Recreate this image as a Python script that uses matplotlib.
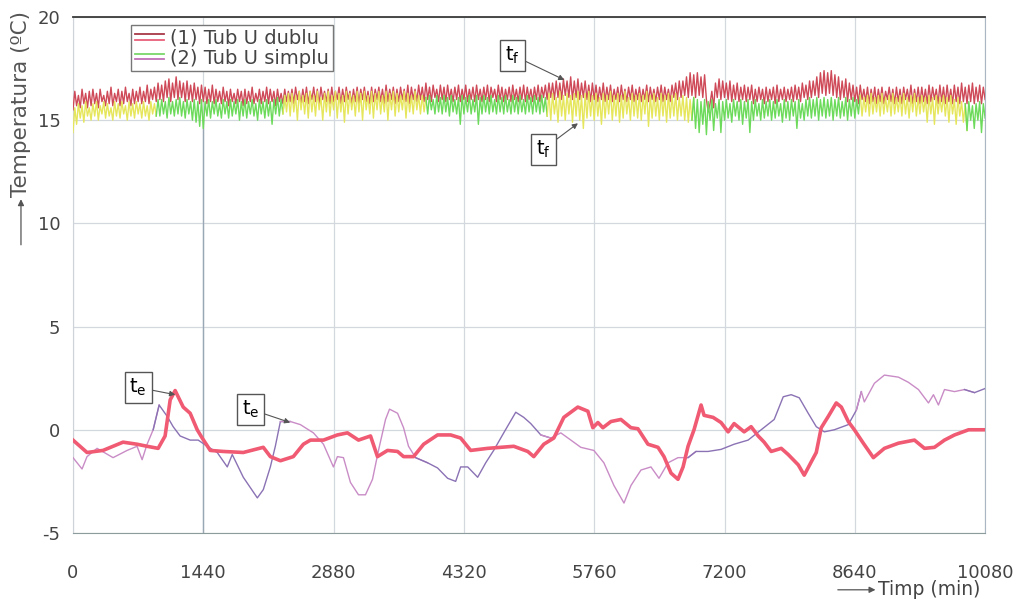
import numpy as np
import matplotlib
matplotlib.use('Agg')
import matplotlib.pyplot as plt
from matplotlib.legend_handler import HandlerBase
from matplotlib.lines import Line2D

plt.rcParams['axes.unicode_minus'] = False

# fluid temperature, one reading every 20 min (0 ... 10080 min), 12 readings per row
sample_step = 20
tf_dublu = [
    15.5, 16.4, 15.7, 16.2, 15.6, 16.5, 15.8, 16.3, 15.6, 16.4, 15.7, 16.5,
    15.8, 16.3, 15.6, 16.5, 15.9, 16.2, 15.7, 16.4, 15.8, 16.6, 15.7, 16.3,
    15.9, 16.5, 15.7, 16.4, 15.8, 16.6, 15.9, 16.3, 15.7, 16.5, 15.8, 16.4,
    15.9, 16.6, 15.8, 16.4, 15.9, 16.7, 15.8, 16.5, 16.0, 16.6, 15.9, 16.8,
    16.0, 16.7, 15.9, 16.9, 16.1, 17.0, 15.9, 16.8, 16.1, 17.1, 16.0, 16.9,
    16.1, 16.8, 15.9, 16.9, 16.0, 16.7, 15.9, 16.8, 16.0, 16.6, 15.8, 16.7,
    15.9, 16.6, 15.8, 16.5, 15.9, 16.7, 15.8, 16.5, 15.9, 16.4, 15.8, 16.6,
    15.9, 16.4, 15.7, 16.5, 15.9, 16.3, 15.8, 16.5, 15.9, 16.4, 15.7, 16.5,
    15.8, 16.4, 15.9, 16.6, 15.8, 16.3, 15.9, 16.5, 15.8, 16.4, 15.9, 16.6,
    15.8, 16.5, 15.9, 16.4, 15.7, 16.5, 15.9, 16.3, 15.8, 16.5, 15.9, 16.4,
    15.9, 16.5, 15.8, 16.6, 16.0, 16.4, 15.8, 16.5, 15.9, 16.6, 15.8, 16.4,
    16.0, 16.6, 15.9, 16.5, 15.8, 16.6, 16.0, 16.4, 15.9, 16.5, 15.8, 16.6,
    15.9, 16.4, 16.0, 16.6, 15.8, 16.5, 15.9, 16.6, 16.0, 16.4, 15.8, 16.5,
    15.9, 16.6, 15.8, 16.5, 16.0, 16.6, 15.9, 16.4, 15.8, 16.6, 15.9, 16.5,
    16.0, 16.6, 15.9, 16.5, 15.8, 16.7, 15.9, 16.5, 16.0, 16.6, 15.8, 16.5,
    15.9, 16.6, 16.0, 16.5, 15.9, 16.7, 15.8, 16.6, 16.0, 16.5, 15.9, 16.7,
    16.0, 16.6, 15.9, 16.8, 16.0, 16.6, 15.9, 16.7, 16.1, 16.5, 15.9, 16.7,
    16.0, 16.6, 15.9, 16.7, 16.0, 16.5, 15.9, 16.6, 16.0, 16.7, 15.9, 16.5,
    16.0, 16.7, 15.9, 16.5, 16.0, 16.6, 15.9, 16.7, 16.0, 16.5, 15.9, 16.6,
    16.0, 16.7, 15.9, 16.6, 16.1, 16.5, 15.9, 16.7, 16.0, 16.6, 15.9, 16.5,
    16.0, 16.6, 15.9, 16.7, 16.0, 16.5, 15.9, 16.6, 16.0, 16.7, 15.9, 16.6,
    16.0, 16.5, 15.9, 16.6, 16.0, 16.7, 15.9, 16.6, 16.1, 16.7, 16.0, 16.8,
    16.1, 16.8, 16.0, 16.9, 16.1, 16.8, 16.0, 17.0, 16.2, 16.9, 16.1, 17.1,
    16.0, 16.9, 16.1, 17.0, 16.0, 16.8, 16.1, 16.9, 16.0, 16.7, 15.9, 16.8,
    16.0, 16.7, 15.9, 16.6, 16.0, 16.8, 15.9, 16.6, 16.0, 16.7, 15.9, 16.5,
    16.0, 16.6, 15.9, 16.7, 16.0, 16.5, 15.9, 16.6, 16.0, 16.7, 15.9, 16.5,
    16.0, 16.6, 15.9, 16.5, 16.0, 16.7, 15.9, 16.6, 16.0, 16.5, 15.9, 16.6,
    16.0, 16.7, 15.9, 16.6, 16.0, 16.5, 15.9, 16.7, 16.1, 16.8, 16.0, 16.9,
    16.1, 16.9, 16.2, 17.1, 16.1, 17.3, 16.2, 17.2, 16.1, 17.3, 16.2, 17.1,
    16.1, 17.2, 16.0, 15.4, 15.8, 16.4, 15.6, 16.8, 16.1, 17.0, 16.0, 16.9,
    16.1, 16.8, 16.0, 16.9, 15.9, 16.7, 16.0, 16.8, 15.9, 16.6, 16.0, 16.7,
    15.9, 16.6, 16.0, 16.7, 15.8, 16.5, 15.9, 16.6, 16.0, 16.5, 15.8, 16.6,
    15.9, 16.5, 16.0, 16.6, 15.8, 16.7, 15.9, 16.5, 16.0, 16.6, 15.9, 16.5,
    16.0, 16.6, 15.9, 16.7, 16.0, 16.6, 15.9, 16.8, 16.1, 16.7, 16.0, 16.9,
    16.1, 16.9, 16.2, 17.1, 16.1, 17.3, 16.3, 17.4, 16.2, 17.3, 16.3, 17.4,
    16.2, 17.2, 16.1, 17.1, 16.0, 16.9, 16.1, 17.0, 15.9, 16.8, 16.0, 16.7,
    15.9, 16.6, 15.8, 16.7, 16.0, 16.5, 15.9, 16.6, 15.8, 16.5, 15.9, 16.6,
    15.8, 16.5, 15.9, 16.6, 15.8, 16.4, 16.0, 16.6, 15.9, 16.5, 15.8, 16.6,
    15.9, 16.5, 15.8, 16.6, 16.0, 16.5, 15.9, 16.7, 15.8, 16.5, 15.9, 16.6,
    15.8, 16.6, 15.9, 16.5, 15.8, 16.7, 15.9, 16.6, 16.0, 16.5, 15.8, 16.7,
    15.9, 16.6, 15.8, 16.7, 15.9, 16.5, 15.8, 16.7, 15.9, 16.6, 15.8, 16.8,
    15.9, 16.6, 15.8, 16.7, 15.9, 16.8, 15.8, 16.6, 15.9, 16.7, 15.8, 16.6,
    16.0,
]
tf_simplu = [
    14.4, 15.6, 14.8, 15.8, 15.1, 15.7, 14.9, 15.9, 15.2, 15.6, 15.0, 15.8,
    15.2, 15.9, 15.0, 15.7, 15.3, 15.9, 15.1, 15.8, 15.2, 15.6, 15.0, 15.9,
    15.2, 15.8, 15.1, 15.9, 15.3, 15.7, 15.0, 15.9, 15.2, 15.8, 15.1, 15.9,
    15.3, 15.8, 15.1, 15.9, 15.2, 15.7, 15.0, 15.9, 15.3, 15.8, 15.2, 16.0,
    15.2, 16.0, 15.3, 15.9, 15.1, 16.1, 15.3, 15.9, 15.2, 16.0, 15.3, 16.1,
    15.2, 15.9, 15.1, 16.0, 15.3, 15.9, 15.0, 16.0, 14.9, 15.9, 14.7, 16.0,
    14.6, 15.9, 15.2, 16.0, 15.1, 15.9, 15.3, 16.0, 15.2, 15.8, 15.1, 16.0,
    15.3, 15.9, 15.1, 16.0, 15.2, 15.9, 15.3, 16.0, 15.0, 15.9, 15.2, 16.0,
    15.1, 15.9, 15.3, 16.0, 15.2, 15.8, 15.0, 16.0, 15.3, 15.9, 15.1, 16.0,
    15.2, 15.9, 14.8, 16.0, 15.3, 16.1, 15.2, 16.0, 15.3, 16.2, 15.4, 16.3,
    15.2, 16.3, 15.4, 16.2, 15.0, 16.4, 15.5, 16.2, 15.3, 16.3, 15.1, 16.4,
    15.4, 16.2, 15.2, 16.4, 15.5, 16.1, 15.0, 16.3, 15.4, 16.4, 15.2, 16.2,
    15.5, 16.4, 15.1, 16.3, 15.4, 16.2, 14.9, 16.4, 15.3, 16.3, 15.5, 16.2,
    15.2, 16.4, 15.4, 16.3, 15.0, 16.4, 15.5, 16.2, 15.3, 16.4, 15.1, 16.3,
    15.5, 16.4, 15.3, 16.2, 15.4, 16.4, 15.0, 16.3, 15.5, 16.4, 15.2, 16.3,
    15.4, 16.2, 15.5, 16.4, 15.1, 16.3, 15.4, 16.2, 15.3, 16.4, 15.5, 16.2,
    15.3, 16.2, 15.4, 16.1, 15.3, 16.2, 15.5, 16.0, 15.3, 16.2, 15.4, 16.1,
    15.3, 16.2, 15.4, 16.1, 15.2, 16.2, 15.4, 16.0, 15.3, 16.1, 14.8, 16.2,
    15.3, 16.1, 15.4, 16.2, 15.3, 16.0, 15.4, 16.2, 14.8, 16.1, 15.3, 16.2,
    15.4, 16.1, 15.3, 16.2, 15.4, 16.0, 15.3, 16.2, 15.4, 16.1, 15.3, 16.2,
    15.4, 16.0, 15.3, 16.2, 15.4, 16.1, 15.3, 16.2, 15.4, 16.0, 15.3, 16.2,
    15.4, 16.1, 15.3, 16.2, 15.4, 16.1, 15.3, 16.2, 15.4, 16.1, 15.2, 16.3,
    15.0, 16.3, 15.3, 16.1, 14.9, 16.4, 15.2, 16.2, 15.0, 16.3, 15.3, 16.2,
    14.9, 16.3, 15.2, 16.4, 15.0, 16.2, 14.6, 16.3, 15.1, 16.4, 15.2, 16.2,
    15.0, 16.3, 15.2, 16.1, 14.8, 16.3, 15.1, 16.2, 15.3, 16.4, 15.0, 16.2,
    15.2, 16.3, 14.9, 16.2, 15.1, 16.4, 15.3, 16.1, 15.0, 16.3, 15.2, 16.2,
    15.1, 16.3, 15.0, 16.2, 15.3, 16.4, 14.7, 16.2, 15.1, 16.3, 15.2, 16.1,
    15.0, 16.3, 15.2, 16.2, 14.9, 16.3, 15.1, 16.2, 15.2, 16.3, 15.0, 16.1,
    15.2, 16.2, 15.0, 16.1, 14.9, 16.0, 15.0, 16.1, 14.6, 16.0, 14.4, 15.9,
    14.8, 16.0, 14.3, 15.9, 15.0, 16.0, 14.5, 15.8, 15.1, 16.0, 14.4, 15.9,
    15.0, 16.0, 15.1, 15.8, 14.9, 16.0, 15.2, 15.9, 15.0, 16.0, 14.8, 15.9,
    15.1, 16.0, 14.4, 15.9, 15.0, 16.0, 15.2, 15.8, 15.0, 16.0, 15.1, 15.9,
    15.2, 16.0, 15.0, 15.9, 15.1, 16.0, 15.2, 15.8, 14.9, 16.0, 15.1, 15.9,
    15.0, 16.0, 15.2, 15.9, 14.6, 16.0, 15.1, 15.8, 15.0, 16.0, 15.2, 16.1,
    15.1, 16.0, 15.2, 16.1, 15.0, 16.0, 15.2, 16.1, 15.1, 16.0, 15.2, 16.1,
    15.0, 16.0, 15.2, 16.1, 15.1, 15.9, 15.2, 16.1, 15.0, 16.0, 15.2, 16.1,
    15.1, 16.0, 15.3, 16.2, 15.2, 16.1, 15.4, 16.2, 15.2, 16.3, 15.3, 16.1,
    15.4, 16.2, 15.2, 16.3, 15.3, 16.1, 15.4, 16.2, 15.2, 16.3, 15.3, 16.1,
    15.4, 16.2, 15.2, 16.3, 15.3, 16.1, 15.1, 16.2, 15.4, 16.3, 15.2, 16.1,
    15.3, 16.2, 15.4, 16.1, 14.9, 16.2, 15.3, 16.1, 14.8, 16.2, 15.3, 16.1,
    15.4, 16.2, 15.2, 16.1, 14.9, 16.2, 15.3, 16.0, 14.8, 16.1, 15.2, 15.9,
    14.9, 15.8, 14.5, 15.9, 15.0, 15.7, 14.6, 15.8, 15.0, 15.9, 14.4, 15.8,
    15.1,
]

# outdoor temperature (1) tub U dublu
te_dublu_t = [
    0, 155, 332, 553, 708, 819, 941, 1018, 1074, 1129,
    1218, 1295, 1373, 1428, 1517, 1661, 1882, 2103, 2181, 2292,
    2435, 2546, 2624, 2768, 2922, 3033, 3155, 3288, 3365, 3476,
    3587, 3653, 3764, 3875, 4029, 4173, 4284, 4395, 4583, 4727,
    4871, 5026, 5092, 5203, 5314, 5424, 5579, 5690, 5745, 5801,
    5856, 5945, 6055, 6166, 6243, 6354, 6465, 6531, 6609, 6686,
    6742, 6797, 6863, 6941, 6974, 7074, 7162, 7240, 7306, 7417,
    7494, 7572, 7638, 7716, 7827, 7904, 8015, 8081, 8159, 8214,
    8269, 8347, 8435, 8491, 8568, 8635, 8734, 8845, 8967, 9122,
    9299, 9410, 9520, 9631, 9742, 9897, 10080,
]
te_dublu = [
    -0.5, -1.1, -1.0, -0.6, -0.7, -0.8, -0.9, -0.3, 1.45, 1.9,
    1.1, 0.8, 0.0, -0.4, -1.0, -1.05, -1.1, -0.85, -1.3, -1.5,
    -1.3, -0.7, -0.5, -0.5, -0.25, -0.15, -0.5, -0.3, -1.3, -1.0,
    -1.05, -1.3, -1.3, -0.7, -0.25, -0.25, -0.4, -1.0, -0.9, -0.85,
    -0.8, -1.05, -1.3, -0.7, -0.4, 0.6, 1.1, 0.9, 0.1, 0.35,
    0.1, 0.4, 0.5, 0.1, 0.05, -0.7, -0.85, -1.3, -2.1, -2.4,
    -1.8, -0.8, 0.0, 1.2, 0.7, 0.6, 0.35, -0.1, 0.3, -0.1,
    0.15, -0.3, -0.6, -1.05, -0.9, -1.2, -1.7, -2.2, -1.55, -1.1,
    0.1, 0.65, 1.3, 1.1, 0.4, 0.0, -0.65, -1.35, -0.9, -0.65,
    -0.5, -0.9, -0.85, -0.5, -0.25, 0.0, 0.0,
]

# outdoor temperature (2) tub U simplu
te_simplu_t = [
    0, 100, 155, 266, 443, 598, 708, 764, 819, 886,
    952, 1041, 1107, 1184, 1295, 1384, 1483, 1594, 1705, 1760,
    1882, 2037, 2103, 2181, 2236, 2292, 2402, 2513, 2657, 2768,
    2878, 2922, 2989, 3066, 3155, 3232, 3310, 3376, 3454, 3498,
    3587, 3653, 3708, 3786, 3919, 4029, 4140, 4229, 4284, 4362,
    4472, 4561, 4649, 4760, 4893, 4982, 5059, 5170, 5280, 5391,
    5502, 5612, 5756, 5867, 5978, 6089, 6166, 6277, 6387, 6476,
    6576, 6686, 6797, 6885, 7018, 7162, 7306, 7461, 7605, 7749,
    7849, 7937, 8026, 8125, 8214, 8303, 8413, 8568, 8657, 8712,
    8745, 8856, 8967, 9122, 9232, 9343, 9454, 9509, 9564, 9631,
    9742, 9852, 9963, 10080,
]
te_simplu = [
    -1.35, -1.9, -1.3, -0.9, -1.35, -1.0, -0.8, -1.45, -0.7, 0.0,
    1.2, 0.65, 0.15, -0.3, -0.5, -0.5, -0.8, -1.1, -1.8, -1.2,
    -2.3, -3.3, -2.9, -1.8, -0.8, 0.4, 0.4, 0.25, -0.15, -0.7,
    -1.8, -1.3, -1.35, -2.55, -3.15, -3.15, -2.4, -1.0, 0.5, 1.0,
    0.8, 0.1, -0.8, -1.35, -1.6, -1.85, -2.35, -2.5, -1.8, -1.8,
    -2.3, -1.6, -1.0, -0.15, 0.85, 0.6, 0.3, -0.25, -0.4, -0.15,
    -0.5, -0.85, -1.0, -1.6, -2.7, -3.55, -2.7, -1.95, -1.8, -2.35,
    -1.6, -1.35, -1.35, -1.05, -1.05, -0.95, -0.7, -0.5, 0.0, 0.5,
    1.6, 1.7, 1.55, 0.8, 0.15, -0.1, 0.0, 0.25, 0.95, 1.85,
    1.35, 2.25, 2.65, 2.55, 2.3, 1.95, 1.3, 1.7, 1.2, 1.95,
    1.85, 1.95, 1.8, 2.0,
]

# where the measurement files change (colour switches in the original)
file_breaks = [920, 2330, 3900, 5240, 6850, 8700, 9870]

x_ticks = [0, 1440, 2880, 4320, 5760, 7200, 8640, 10080]
y_ticks = [-5, 0, 5, 10, 15, 20]
legend_labels = ['(1) Tub U dublu', '(2) Tub U simplu']


class HandlerPair(HandlerBase):
    """two short stacked lines as legend key"""
    def __init__(self, colors):
        super().__init__()
        self.colors = colors

    def create_artists(self, legend, orig_handle, xdescent, ydescent,
                       width, height, fontsize, trans):
        out = []
        for k, c in enumerate(self.colors):
            y = height * (0.7 - 0.4 * k) - ydescent
            out.append(Line2D([-xdescent, width - xdescent], [y, y],
                              color=c, lw=1.3, transform=trans))
        return out


def plot_by_file(ax, t, v, colors, **kw):
    t = np.asarray(t)
    v = np.asarray(v)
    edges = [t[0]] + file_breaks + [t[-1]]
    for k in range(len(edges) - 1):
        i0 = max(np.searchsorted(t, edges[k], 'right') - 1, 0)
        i1 = np.searchsorted(t, edges[k + 1], 'left') + 1
        ax.plot(t[i0:i1], v[i0:i1], color=colors[k % 2], **kw)


fig = plt.figure(figsize=(10.18, 6.0), dpi=100)
ax = fig.add_axes([0.0717, 0.1117, 0.896, 0.86])

t_dublu = np.arange(len(tf_dublu)) * sample_step
t_simplu = np.arange(len(tf_simplu)) * sample_step

ax.plot(t_dublu, tf_dublu, color='#cf4a58', lw=1.0, zorder=3)
plot_by_file(ax, t_simplu, tf_simplu, ['#e6e65c', '#6cda5a'], lw=1.0, zorder=4)

plot_by_file(ax, te_simplu_t, te_simplu, ['#c98cc6', '#8a72b4'], lw=1.0, zorder=5)
ax.plot(te_dublu_t, te_dublu, color='#f05a72', lw=2.6, zorder=6)

ax.set_xlim(x_ticks[0], x_ticks[-1])
ax.set_ylim(y_ticks[0], y_ticks[-1])
ax.set_xticks(x_ticks)
ax.set_yticks(y_ticks)
ax.tick_params(length=0, labelsize=13, labelcolor='#444444')
ax.tick_params(axis='x', pad=22)
ax.tick_params(axis='y', pad=9)
ax.grid(True, color='#d3d8de', lw=0.9)
ax.set_axisbelow(True)
ax.axvline(x_ticks[1], ymax=(15 - y_ticks[0]) / (y_ticks[-1] - y_ticks[0]),
           color='#9aa8b6', lw=1.0, zorder=1)

ax.spines['top'].set_color('#3a3a3a')
ax.spines['top'].set_linewidth(1.3)
ax.spines['bottom'].set_color('#8c9c9c')
ax.spines['right'].set_color('#aab6c2')
ax.spines['left'].set_color('#cdd3d9')

# annotation boxes
box = dict(boxstyle='square,pad=0.25', fc='white', ec='#555555', lw=1.0)
arrow = dict(arrowstyle='-|>', color='#555555', lw=0.8, mutation_scale=8,
             shrinkA=0, shrinkB=0)
ax.annotate('$\\mathregular{t_f}$', xy=(5430, 16.95), xytext=(4860, 18.15),
            fontsize=14, ha='center', va='center', bbox=box,
            arrowprops=arrow, zorder=8)
ax.annotate('$\\mathregular{t_f}$', xy=(5580, 14.85), xytext=(5200, 13.6),
            fontsize=14, ha='center', va='center', bbox=box,
            arrowprops=arrow, zorder=8)
ax.annotate('$\\mathregular{t_e}$', xy=(1130, 1.7), xytext=(720, 2.05),
            fontsize=14, ha='center', va='center', bbox=box,
            arrowprops=arrow, zorder=8)
ax.annotate('$\\mathregular{t_e}$', xy=(2400, 0.35), xytext=(1960, 1.0),
            fontsize=14, ha='center', va='center', bbox=box,
            arrowprops=arrow, zorder=8)

h1 = Line2D([], [])
h2 = Line2D([], [])
leg = ax.legend([h1, h2], legend_labels, loc='upper left',
                bbox_to_anchor=(0.064, 0.985), fontsize=14,
                handlelength=1.5, handletextpad=0.3, borderpad=0.2,
                labelspacing=0.05, borderaxespad=0, fancybox=False,
                framealpha=1, edgecolor='#777777', labelcolor='#444444',
                handler_map={h1: HandlerPair(['#a83848', '#e8607a']),
                             h2: HandlerPair(['#7ad86a', '#c070b8'])})
leg.get_frame().set_linewidth(1.0)
leg.set_zorder(9)

# axis titles with their arrows
grey_arrow = dict(arrowstyle='-|>', color='#555555', lw=0.9, mutation_scale=9,
                  shrinkA=0, shrinkB=0)
fig.text(0.0206, 0.672, 'Temperatura (\u00baC)', rotation=90,
         ha='center', va='bottom', fontsize=15.5, color='#555555')
ax.annotate('', xy=(0.0206, 0.668), xytext=(0.0206, 0.592),
            xycoords='figure fraction', arrowprops=grey_arrow)
fig.text(0.963, 0.017, 'Timp (min)', ha='right', va='center',
         fontsize=13.5, color='#444444')
ax.annotate('', xy=(0.860, 0.017), xytext=(0.823, 0.017),
            xycoords='figure fraction', arrowprops=grey_arrow)

fig.savefig('out.png', dpi=100)
